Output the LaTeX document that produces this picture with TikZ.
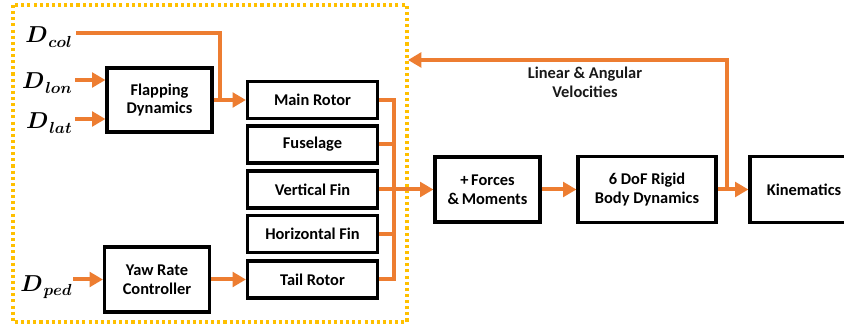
\documentclass[tikz,border=0pt]{standalone}
\usepackage{fontspec}
\setmainfont{Carlito}
\usetikzlibrary{arrows.meta}
\definecolor{orng}{HTML}{ED7D31}
\definecolor{gold}{HTML}{FFC000}
\newcommand\inD[1]{{\boldmath$D$\kern0.5pt\raisebox{-3.5pt}{\fontsize{12.5}{13}\selectfont\boldmath$#1$}}}
\tikzset{
  blk/.style={draw=black, line width=2.4pt, fill=white, align=center,
    font=\fontsize{12.3}{14}\selectfont\bfseries, inner sep=0pt},
  flow/.style={draw=orng, line width=3pt},
  flowar/.style={flow, -{Triangle[length=10pt,width=11pt]}},
  inlab/.style={font=\fontsize{16.5}{18}\selectfont, anchor=east, inner sep=0pt},
  frame/.style={draw=gold, line width=2.3pt, dash pattern=on 2.3pt off 2.3pt},
  lbl/.style={align=center, font=\fontsize{12.3}{14}\selectfont\bfseries, text=black!90}
}
\begin{document}
\begin{tikzpicture}[x=0.75pt,y=-0.75pt]
\useasboundingbox (0,0) rectangle (844,327);
\clip (0,0) rectangle (844,327);
\fill[white] (0,0) rectangle (844,327);

% dotted frame
\draw[frame] (13,5) rectangle (407,322);

% blocks
\node[blk, minimum width=78.75pt, minimum height=48pt] (flap) at (159.5,100) {Flapping\\Dynamics};
\node[blk, minimum width=97.5pt, minimum height=27.75pt] (main) at (312.5,100) {Main Rotor};
\node[blk, minimum width=97.5pt, minimum height=27.75pt] (fus) at (312.5,144.5) {Fuselage};
\node[blk, minimum width=97.5pt, minimum height=27.75pt] (vfin) at (312.5,189.5) {Vertical Fin};
\node[blk, minimum width=97.5pt, minimum height=27.75pt] (hfin) at (312.5,234) {Horizontal Fin};
\node[blk, minimum width=97.5pt, minimum height=27.75pt] (tail) at (312.5,279.5) {Tail Rotor};
\node[blk, minimum width=78.75pt, minimum height=48.75pt] (yaw) at (157,279.5) {Yaw Rate\\Controller};
\node[blk, minimum width=78.75pt, minimum height=48.75pt] (forces) at (487.5,189.5) {+\,Forces\\\&\,Moments};
\node[blk, minimum width=103.5pt, minimum height=49.5pt] (dof) at (647,189.5) {6 DoF Rigid\\Body Dynamics};
\node[blk, minimum width=81pt, minimum height=49.5pt] (kin) at (804,189.5) {Kinematics};

% input labels
\node[inlab] (dcol) at (72,37) {\inD{col}};
\node[inlab] (dlon) at (72,83) {\inD{lon}};
\node[inlab] (dlat) at (72,123) {\inD{lat}};
\node[inlab] (dped) at (72,287) {\inD{ped}};

\coordinate (colin) at (76,33);
\coordinate (colj) at (220,100);
\coordinate (lonin) at (75,80);
\coordinate (latin) at (75,119);
\coordinate (pedin) at (73,279.5);
\coordinate (bus) at (394,100);
\coordinate (busb) at (394,279.5);
\coordinate (fbtop) at (727,60);
\coordinate (fbend) at (408,60);

% inputs
\draw[flow] (colin) -| (colj);
\draw[flowar] (lonin) -- (lonin -| flap.west);
\draw[flowar] (latin) -- (latin -| flap.west);
\draw[flowar] (pedin) -- (yaw.west);
\draw[flowar] (flap.east) -- (main.west);
\draw[flowar] (yaw.east) -- (tail.west);

% bus
\draw[flow] (main.east) -- (bus) -- (busb) -- (tail.east);
\draw[flow] (fus.east) -- (fus.east -| bus);
\draw[flow] (hfin.east) -- (hfin.east -| bus);
\draw[flowar] (vfin.east) -- (forces.west);

% chain
\draw[flowar] (forces.east) -- (dof.west);
\draw[flowar] (dof.east) -- (kin.west);

% feedback
\draw[flowar] (fbtop |- dof.east) -- (fbtop) -- (fbend);
\node[lbl] (vel) at (585,82) {Linear \& Angular\\Velocities};
\end{tikzpicture}
\end{document}
